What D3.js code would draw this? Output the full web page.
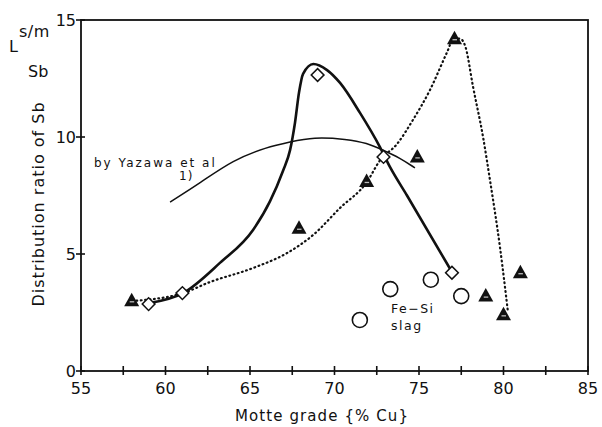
<!DOCTYPE html>
<html><head><meta charset="utf-8">
<script src="https://cdn.jsdelivr.net/npm/d3@7/dist/d3.min.js"></script>
<style>body{margin:0;background:#fff}svg{display:block}</style>
</head><body>
<svg id="c" width="602" height="427"></svg>
<script>
// ---- data ----
const xTicks = [55, 60, 65, 70, 75, 80, 85];
const xMinorTicks = [57.5, 62.5, 67.5, 72.5, 77.5, 82.5];
const yTicks = [0, 5, 10, 15];

// open diamonds (solid curve)
const diamondX = [59, 61, 69, 72.9, 76.95];
const diamondY = [2.86, 3.33, 12.65, 9.15, 4.2];
// filled triangles (dotted curve)
const triangleX = [58, 67.9, 71.9, 74.9, 77.1, 78.95, 80, 81];
const triangleY = [3.0, 6.1, 8.1, 9.15, 14.2, 3.2, 2.4, 4.2];
// open circles: Fe-Si slag
const circleX = [71.5, 73.3, 75.7, 77.5];
const circleY = [2.18, 3.5, 3.9, 3.2];

// traced curves [x, y]
const solidCurve = [[59.08,2.91],[61.04,3.33],[63.22,4.62],[65.18,6.03],[66.18,7.25],[66.95,8.55],
  [67.37,9.44],[67.66,10.6],[67.9,11.9],[68.14,12.7],[68.75,13.12],[69.56,12.86],
  [70.33,12.31],[71.51,11.03],[72.69,9.57],[73.28,8.72],[74.29,7.5],[76.95,4.23]];
const dottedCurve = [[58.02,2.99],[61.04,3.33],[62.63,3.80],[65.18,4.40],[67.19,5.04],[68.73,5.81],
  [70.33,6.97],[71.92,8.08],[72.69,9.0],[73.70,9.7],[74.64,10.73],[75.65,12.01],[76.66,13.62],
  [77.05,14.2],[77.43,14.2],[77.75,13.85],[78.2,12.14],[78.79,10.0],[79.2,8.16],[79.79,5.30],[80.27,2.48]];
const yazawaCurve = [[60.27,7.22],[62.04,8.03],[64.0,9.02],[66.0,9.57],[67.37,9.79],[68.73,10.0],
  [70.74,9.91],[71.92,9.74],[72.87,9.44],[73.88,9.10],[74.76,8.68]];

// ---- drawing ----
const svg = d3.select("#c");
const font = "'DejaVu Sans', sans-serif";
const x = d3.scaleLinear().domain([55, 85]).range([81, 588]);
const y = d3.scaleLinear().domain([0, 15]).range([371, 20]);

// frame
svg.append("rect").attr("x", x(55)).attr("y", y(15))
  .attr("width", x(85) - x(55)).attr("height", y(0) - y(15))
  .attr("fill", "none").attr("stroke", "#111").attr("stroke-width", 1.8);

// x ticks (crossing)
const gx = svg.append("g");
gx.selectAll("line.t").data(xTicks.concat(xMinorTicks)).join("line")
  .attr("x1", d => x(d)).attr("x2", d => x(d))
  .attr("y1", y(0) - 5).attr("y2", y(0) + 4)
  .attr("stroke", "#111").attr("stroke-width", 1.6);
gx.selectAll("text").data(xTicks).join("text")
  .attr("x", d => x(d)).attr("y", y(0) + 23)
  .attr("text-anchor", "middle").attr("font-family", font).attr("font-size", 16)
  .attr("fill", "#111").text(d => d);

// y ticks
const gy = svg.append("g");
gy.selectAll("line").data(yTicks).join("line")
  .attr("x1", x(55) - 5).attr("x2", x(55) + 4)
  .attr("y1", d => y(d)).attr("y2", d => y(d))
  .attr("stroke", "#111").attr("stroke-width", 1.6);
gy.selectAll("text").data(yTicks).join("text")
  .attr("x", x(55) - 5).attr("y", d => y(d) + 6)
  .attr("text-anchor", "end").attr("font-family", font).attr("font-size", 16)
  .attr("fill", "#111").text(d => d);

// axis titles
svg.append("text").attr("x", 322).attr("y", 421).attr("text-anchor", "middle")
  .attr("font-family", font).attr("font-size", 15).attr("letter-spacing", 1.1).attr("fill", "#111")
  .text("Motte grade {% Cu}");
svg.append("text").attr("transform", "translate(44,204) rotate(-90)")
  .attr("text-anchor", "middle").attr("font-family", font).attr("font-size", 16)
  .attr("letter-spacing", 1).attr("fill", "#111").text("Distribution ratio of Sb");
svg.append("text").attr("x", 9).attr("y", 52).attr("font-family", font)
  .attr("font-size", 16).attr("fill", "#111").text("L");
svg.append("text").attr("x", 19).attr("y", 37).attr("font-family", font)
  .attr("font-size", 16).attr("letter-spacing", 0.5).attr("fill", "#111").text("s/m");
svg.append("text").attr("x", 28).attr("y", 77).attr("font-family", font)
  .attr("font-size", 16).attr("fill", "#111").text("Sb");

// curves
const lineOf = c => d3.line().x(d => x(d[0])).y(d => y(d[1])).curve(c);
svg.append("path").datum(yazawaCurve).attr("d", lineOf(d3.curveBasis))
  .attr("fill", "none").attr("stroke", "#111").attr("stroke-width", 1.5);
svg.append("path").datum(dottedCurve).attr("d", lineOf(d3.curveMonotoneX))
  .attr("fill", "none").attr("stroke", "#111").attr("stroke-width", 2.2)
  .attr("stroke-dasharray", "0.8,3.6").attr("stroke-linecap", "round");
svg.append("path").datum(solidCurve).attr("d", lineOf(d3.curveMonotoneX))
  .attr("fill", "none").attr("stroke", "#111").attr("stroke-width", 2.6)
  .attr("stroke-linejoin", "round");

// labels
svg.append("text").attr("x", 94).attr("y", 167).attr("font-family", font)
  .attr("font-size", 12).attr("letter-spacing", 2).attr("fill", "#111").text("by Yazawa et al");
svg.append("text").attr("x", 179).attr("y", 180).attr("font-family", font)
  .attr("font-size", 12).attr("letter-spacing", 1).attr("fill", "#111").text("1)");
svg.append("text").attr("x", 391).attr("y", 313).attr("font-family", font)
  .attr("font-size", 12.5).attr("letter-spacing", 1.5).attr("fill", "#111").text("Fe\u2212Si");
svg.append("text").attr("x", 391).attr("y", 330).attr("font-family", font)
  .attr("font-size", 12.5).attr("letter-spacing", 1.5).attr("fill", "#111").text("slag");

// circles
svg.selectAll("circle.slag").data(circleX.map((v, i) => [v, circleY[i]])).join("circle")
  .attr("cx", d => x(d[0])).attr("cy", d => y(d[1])).attr("r", 7.5)
  .attr("fill", "#fff").attr("stroke", "#111").attr("stroke-width", 1.6);

// diamonds
svg.selectAll("path.dia").data(diamondX.map((v, i) => [v, diamondY[i]])).join("path")
  .attr("transform", d => `translate(${x(d[0])},${y(d[1])}) rotate(45)`)
  .attr("d", "M-4.5,-4.5H4.5V4.5H-4.5Z")
  .attr("fill", "#fff").attr("stroke", "#111").attr("stroke-width", 1.5);

// triangles
const tri = svg.selectAll("g.tri").data(triangleX.map((v, i) => [v, triangleY[i]])).join("g")
  .attr("transform", d => `translate(${x(d[0])},${y(d[1])})`);
tri.append("path").attr("d", "M0,-8L7.5,5.5H-7.5Z").attr("fill", "#111");
tri.append("path").attr("d", "M-2,1H2.5").attr("stroke", "#bbb").attr("stroke-width", 1.3);
</script>
</body></html>
